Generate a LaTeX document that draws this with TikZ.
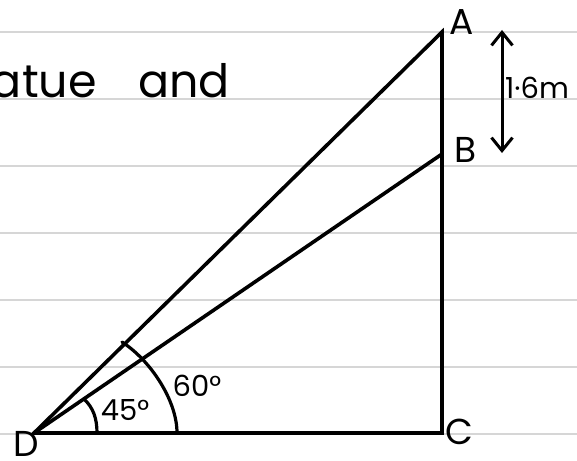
\documentclass[tikz,border=0pt]{standalone}
\usepackage{fontspec}
\setmainfont{Poppins}
\usetikzlibrary{arrows.meta}
\begin{document}
\begin{tikzpicture}[x=1pt,y=-1pt,
  rule/.style={draw=black!16, line width=1.3pt},
  edge/.style={draw=black, line width=3.6pt, line cap=round, line join=miter},
  arcline/.style={draw=black, line width=3.2pt, line cap=round},
  lbl/.style={inner sep=0pt, font=\fontsize{36}{40}\selectfont},
  word/.style={inner sep=0pt, font=\fontsize{46}{52}\selectfont},
  ang/.style={inner sep=0pt, font=\fontsize{29}{33}\selectfont},
  dim/.style={inner sep=0pt, font=\fontsize{29}{33}\selectfont},
  dimarrow/.style={draw=black, line width=3pt,
    {Straight Barb[length=13pt,width=21pt,line width=3pt]}-{Straight Barb[length=13pt,width=21pt,line width=3pt]}}
]
\useasboundingbox (0,0) rectangle (577,460);
% ruled paper
\foreach \y in {32,99,166,233,300,367,434} \draw[rule] (0,\y) -- (577,\y);
% heading fragment
\node[word, anchor=base east] (statue) at (97,97) {statue};
\node[word, anchor=base west] (and) at (138,97) {and};
% triangle
\coordinate (D) at (34,433);
\coordinate (C) at (442,433);
\coordinate (A) at (442,32);
\coordinate (B) at (442,154);
\draw[edge] (D) -- (C) -- (A) -- cycle;
\draw[edge] (D) -- (B);
% angle arcs
\draw[arcline] (97,433) .. controls (97,418) and (93,408) .. (85,400);
\draw[arcline] (177,433) .. controls (177,400) and (150,360) .. (122,342);
% labels
\node[lbl] (lA) at (462,22) {A};
\node[lbl] (lB) at (466,150) {B};
\node[lbl] (lC) at (459,432) {C};
\node[lbl, anchor=south] (lD) at (26,457) {D};
\node[ang] (a45) at (125,410) {45°};
\node[ang] (a60) at (197,386) {60°};
% dimension
\coordinate (dTop) at (502,30);
\coordinate (dBot) at (502,153);
\draw[dimarrow] (dTop) -- (dBot);
\node[dim, anchor=west] (len) at (505,88) {1·6m};
\end{tikzpicture}
\end{document}
